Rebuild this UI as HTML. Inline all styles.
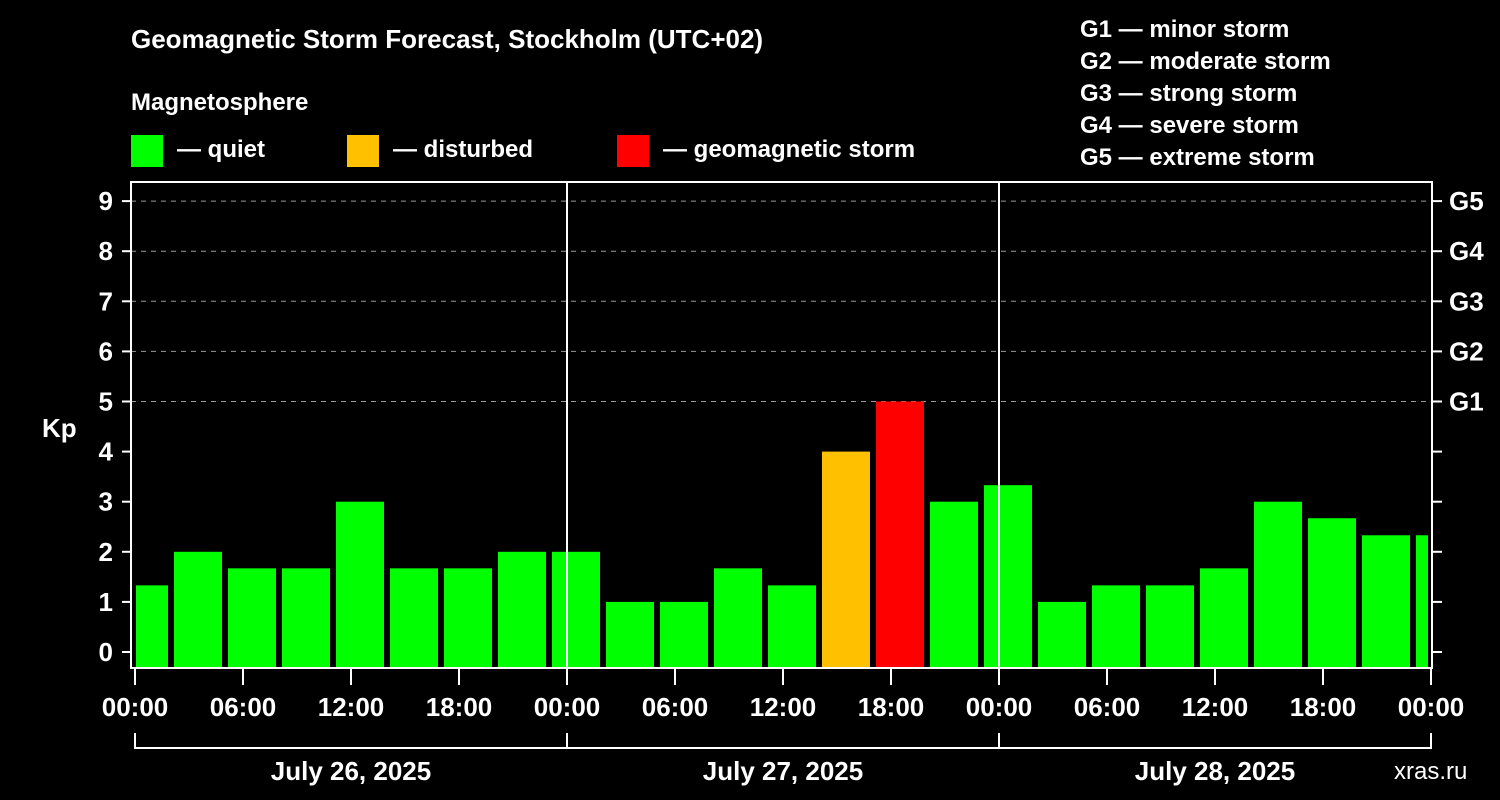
<!DOCTYPE html>
<html><head><meta charset="utf-8"><style>
body{margin:0;background:#000;width:1500px;height:800px;overflow:hidden}
svg{display:block;font-family:"Liberation Sans",sans-serif;font-weight:bold}
</style></head><body>
<svg id="chart" width="1500" height="800" viewBox="0 0 1500 800">
<rect width="1500" height="800" fill="#000"/>
<text x="131" y="48" fill="#fff" font-size="26">Geomagnetic Storm Forecast, Stockholm (UTC+02)</text>
<text x="131" y="110" fill="#fff" font-size="24">Magnetosphere</text>
<g><rect x="131" y="135" width="32" height="32" fill="#00ff00"/><text x="177" y="157" fill="#fff" font-size="24">— quiet</text></g>
<g><rect x="347" y="135" width="32" height="32" fill="#ffc000"/><text x="393" y="157" fill="#fff" font-size="24">— disturbed</text></g>
<g><rect x="617" y="135" width="32" height="32" fill="#ff0000"/><text x="663" y="157" fill="#fff" font-size="24">— geomagnetic storm</text></g>
<g fill="#fff" font-size="24">
<text x="1080" y="37">G1 — minor storm</text><text x="1080" y="69">G2 — moderate storm</text><text x="1080" y="101">G3 — strong storm</text><text x="1080" y="133">G4 — severe storm</text><text x="1080" y="165">G5 — extreme storm</text>
</g>
<g id="grid"></g><g id="bars"></g><g id="axes"></g>
<text x="42" y="437" fill="#fff" font-size="26">Kp</text>
<text x="1394" y="779" fill="#fff" font-size="24" font-weight="normal">xras.ru</text>
</svg>
<script>
const kpValues=[1.33,2,1.67,1.67,3,1.67,1.67,2,2,1,1,1.67,1.33,4,5,3,3.33,1,1.33,1.33,1.67,3,2.67,2.33,2.33];
const firstBarHour=-1; // local hour of first 3h interval start
const dayLabels=["July 26, 2025","July 27, 2025","July 28, 2025"];
const hourLabels=["00:00","06:00","12:00","18:00"];
const gLabels=["G1","G2","G3","G4","G5"];
const NS="http://www.w3.org/2000/svg";
const X0=135,PXH=18,Y0=652,PKP=50.1,L=131,R=1432,T=182,B=668;
const x=h=>X0+h*PXH, y=v=>Y0-v*PKP;
function mk(p,tag,a,txt){const e=document.createElementNS(NS,tag);for(const k in a)e.setAttribute(k,a[k]);if(txt!=null)e.textContent=txt;p.appendChild(e);return e;}
const grid=document.getElementById('grid'),bars=document.getElementById('bars'),axes=document.getElementById('axes');
for(let k=5;k<=9;k++){const l=mk(grid,'line',{x1:L,x2:R,y1:y(k),y2:y(k),stroke:'#999','stroke-dasharray':'5,5','stroke-width':1});

}
kpValues.forEach((v,i)=>{
 let a=x(firstBarHour+i*3)+3,b=x(firstBarHour+i*3+3)-3;
 a=Math.max(a,L+5);b=Math.min(b,R-4);
 const c=v>=5?'#ff0000':v>=4?'#ffc000':'#00ff00';
 const r=mk(bars,'rect',{x:a,y:y(v),width:b-a,height:B-y(v),fill:c});
 
 
});
for(let d=1;d<3;d++){const l=mk(axes,'line',{x1:x(d*24),x2:x(d*24),y1:T,y2:B,stroke:'#fff','stroke-width':2});

}
const f=mk(axes,'rect',{x:L,y:T,width:R-L,height:B-T,fill:'none',stroke:'#fff','stroke-width':2});


for(let k=0;k<=9;k++){
 mk(axes,'line',{x1:122,x2:L,y1:y(k),y2:y(k),stroke:'#fff','stroke-width':2});
 mk(axes,'line',{x1:R,x2:1442,y1:y(k),y2:y(k),stroke:'#fff','stroke-width':2});
 const t=mk(axes,'text',{x:113,y:y(k)+9,fill:'#fff','font-size':26,'text-anchor':'end'},String(k));
 
 
 if(k>=5){const g=mk(axes,'text',{x:1449,y:y(k)+9,fill:'#fff','font-size':26},gLabels[k-5]);
 
 }
}
for(let h=0;h<=72;h+=6){
 mk(axes,'line',{x1:x(h),x2:x(h),y1:B,y2:685,stroke:'#fff','stroke-width':2});
 const t=mk(axes,'text',{x:x(h),y:716,fill:'#fff','font-size':26,'text-anchor':'middle'},hourLabels[(h/6)%4]);
 
 
}
mk(axes,'line',{x1:x(0),x2:x(72),y1:748,y2:748,stroke:'#fff','stroke-width':2});
for(let d=0;d<=3;d++)mk(axes,'line',{x1:x(d*24),x2:x(d*24),y1:733,y2:749,stroke:'#fff','stroke-width':2});
dayLabels.forEach((s,d)=>{const t=mk(axes,'text',{x:x(d*24+12),y:780,fill:'#fff','font-size':26,'text-anchor':'middle'},s);

});
</script>
</body></html>
